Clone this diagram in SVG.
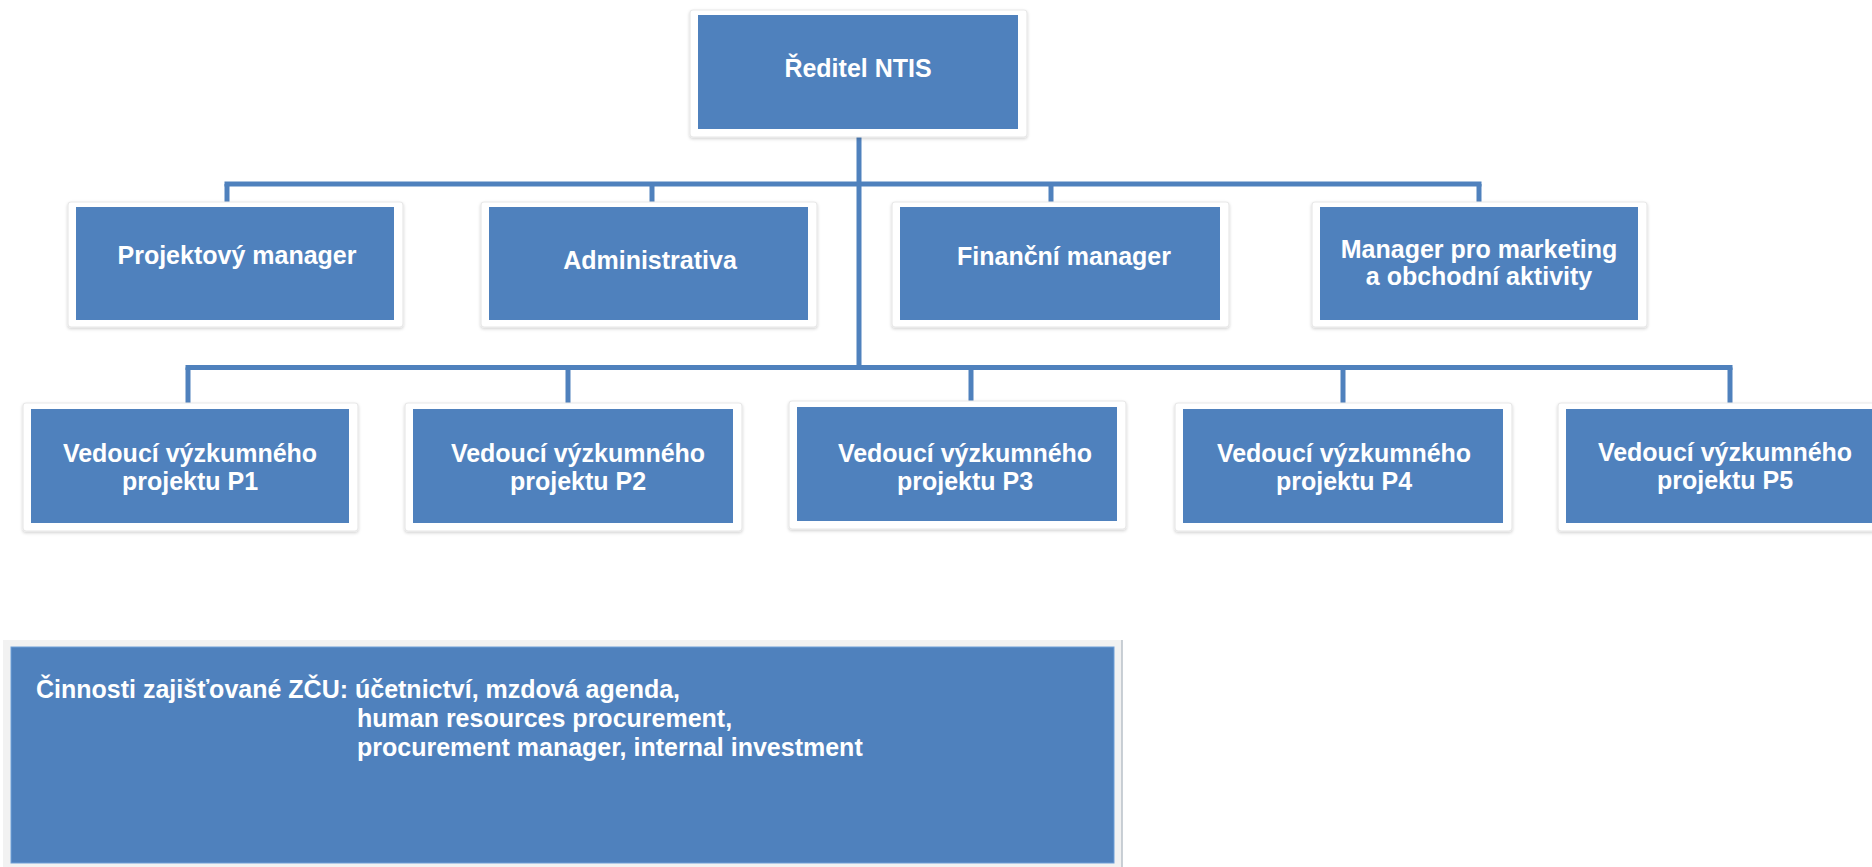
<svg xmlns="http://www.w3.org/2000/svg" width="1872" height="867" viewBox="0 0 1872 867">
<style>
.frame{fill:#ffffff;stroke:#e8e8e8;stroke-width:1.2;filter:url(#sh)}
.box{fill:#4f81bd}
.lbl{font-family:"Liberation Sans",Arial,sans-serif;font-weight:bold;font-size:25px;fill:#ffffff;text-anchor:middle}
.note{font-family:"Liberation Sans",Arial,sans-serif;font-weight:bold;font-size:25px;fill:#ffffff}
.con{stroke:#4f81bd;stroke-width:5;fill:none}
</style>
<defs>
<filter id="sh" x="-5%" y="-10%" width="110%" height="125%">
<feDropShadow dx="0" dy="1.5" stdDeviation="1.5" flood-color="#000000" flood-opacity="0.18"/>
</filter>
</defs>
<rect width="1872" height="867" fill="#ffffff"/>

<g id="connectors">
<line class="con" x1="859" y1="128" x2="859" y2="370"/>
<line class="con" x1="224.5" y1="184" x2="1481.5" y2="184"/>
<line class="con" x1="227" y1="184" x2="227" y2="208"/>
<line class="con" x1="652" y1="184" x2="652" y2="208"/>
<line class="con" x1="1051" y1="184" x2="1051" y2="208"/>
<line class="con" x1="1479" y1="184" x2="1479" y2="208"/>
<line class="con" x1="185.5" y1="367.5" x2="1732.5" y2="367.5"/>
<line class="con" x1="188" y1="367.5" x2="188" y2="410"/>
<line class="con" x1="568" y1="367.5" x2="568" y2="410"/>
<line class="con" x1="971" y1="367.5" x2="971" y2="408"/>
<line class="con" x1="1343" y1="367.5" x2="1343" y2="410"/>
<line class="con" x1="1730" y1="367.5" x2="1730" y2="410"/>
</g>

<g id="reditel">
<rect class="frame" x="690" y="10" width="337" height="127" rx="3"/>
<rect class="box" x="698" y="15" width="320" height="114"/>
<text class="lbl" x="858" y="77">Ředitel NTIS</text>
</g>

<g id="projektovy">
<rect class="frame" x="68" y="202" width="335" height="125" rx="3"/>
<rect class="box" x="76" y="207" width="318" height="113"/>
<text class="lbl" x="237" y="264">Projektový manager</text>
</g>

<g id="administrativa">
<rect class="frame" x="481" y="202" width="336" height="125" rx="3"/>
<rect class="box" x="489" y="207" width="319" height="113"/>
<text class="lbl" x="650" y="269">Administrativa</text>
</g>

<g id="financni">
<rect class="frame" x="892" y="202" width="337" height="125" rx="3"/>
<rect class="box" x="900" y="207" width="320" height="113"/>
<text class="lbl" x="1064" y="265">Finanční manager</text>
</g>

<g id="marketing">
<rect class="frame" x="1312" y="202" width="335" height="125" rx="3"/>
<rect class="box" x="1320" y="207" width="318" height="113"/>
<text class="lbl" x="1479" y="258">Manager pro marketing</text>
<text class="lbl" x="1479" y="285">a obchodní aktivity</text>
</g>

<g id="p1">
<rect class="frame" x="23" y="403" width="335" height="128" rx="3"/>
<rect class="box" x="31" y="409" width="318" height="114"/>
<text class="lbl" x="190" y="462">Vedoucí výzkumného</text>
<text class="lbl" x="190" y="490">projektu P1</text>
</g>

<g id="p2">
<rect class="frame" x="405" y="403" width="337" height="128" rx="3"/>
<rect class="box" x="413" y="409" width="320" height="114"/>
<text class="lbl" x="578" y="462">Vedoucí výzkumného</text>
<text class="lbl" x="578" y="490">projektu P2</text>
</g>

<g id="p3">
<rect class="frame" x="789" y="401" width="337" height="128" rx="3"/>
<rect class="box" x="797" y="407" width="320" height="114"/>
<text class="lbl" x="965" y="462">Vedoucí výzkumného</text>
<text class="lbl" x="965" y="490">projektu P3</text>
</g>

<g id="p4">
<rect class="frame" x="1175" y="403" width="337" height="128" rx="3"/>
<rect class="box" x="1183" y="409" width="320" height="114"/>
<text class="lbl" x="1344" y="462">Vedoucí výzkumného</text>
<text class="lbl" x="1344" y="490">projektu P4</text>
</g>

<g id="p5">
<rect class="frame" x="1558" y="403" width="337" height="128" rx="3"/>
<rect class="box" x="1566" y="409" width="320" height="114"/>
<text class="lbl" x="1725" y="461">Vedoucí výzkumného</text>
<text class="lbl" x="1725" y="489">projektu P5</text>
</g>

<g id="cinnosti">
<rect x="3" y="640" width="1119" height="230" fill="#f2f2f2"/>
<line x1="1122" y1="640" x2="1122" y2="867" stroke="#b8c0c8" stroke-width="1.5"/>
<rect class="box" x="11" y="647" width="1103" height="216" stroke="#6f9fd8" stroke-width="1"/>
<text class="note" x="36" y="698">Činnosti zajišťované ZČU: účetnictví, mzdová agenda,</text>
<text class="note" x="357" y="727">human resources procurement,</text>
<text class="note" x="357" y="756">procurement manager, internal investment</text>
</g>
</svg>
